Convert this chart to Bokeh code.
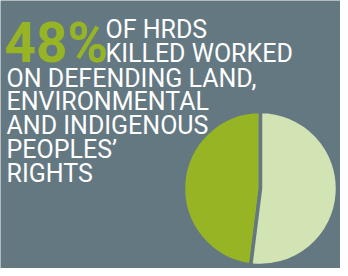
import numpy as np
from bokeh.plotting import figure
from bokeh.models import Range1d, ColumnDataSource
from bokeh.core.properties import value
from bokeh.embed import file_html
from bokeh.resources import INLINE

# data
categories = ["Land, environmental & indigenous rights", "Other"]
shares = [48, 52]
slice_colors = ["#96b423", "#d2e3b4"]
headline = "48%"
head_lines = ["OF HRDS", "KILLED WORKED"]
body_lines = ["ON DEFENDING LAND,", "ENVIRONMENTAL", "AND INDIGENOUS", "PEOPLES\u2019", "RIGHTS"]

BG = "#647882"
W, H = 340, 268

p = figure(width=W, height=H, output_backend="svg", toolbar_location=None,
           x_range=Range1d(0, W), y_range=Range1d(0, H), min_border=0)
p.background_fill_color = BG
p.border_fill_color = BG
p.outline_line_color = None
p.axis.visible = False
p.grid.visible = False

def Y(page_y):
    return H - (page_y - 8)
def X(page_x):
    return page_x - 8

# pie
frac = np.array(shares) / sum(shares)
ends = np.pi / 2 + 2 * np.pi * np.cumsum(frac)
starts = np.concatenate([[np.pi / 2], ends[:-1]])
src = ColumnDataSource(dict(cat=categories, start=starts, end=ends, color=slice_colors))
p.wedge(x=X(268), y=Y(196), radius=77, start_angle="start", end_angle="end",
        fill_color="color", line_color=BG, line_width=3.5, source=src)

BIG, SMALL = 55, 25
def base(page_y, fs):
    # compensate for baseline placement of the svg text
    return Y(page_y - 0.26 * fs)

p.text(x=[X(12)], y=[base(65, BIG)], text=[headline], text_color="#96b423",
       text_font=value("Roboto"), text_font_style="bold", text_font_size=f"{BIG}px",
       text_baseline="alphabetic")
p.text(x=[X(113)] * 2, y=[base(43, SMALL), base(67, SMALL)], text=head_lines,
       text_color="white", text_font=value("Roboto"), text_font_size=f"{SMALL}px",
       text_baseline="alphabetic")
body_y = [base(92 + 23.8 * i, SMALL) for i in range(len(body_lines))]
p.text(x=[X(14)] * len(body_lines), y=body_y, text=body_lines, text_color="white",
       text_font=value("Roboto"), text_font_size=f"{SMALL}px", text_baseline="alphabetic")

open("out.html", "w").write(file_html(p, INLINE))
